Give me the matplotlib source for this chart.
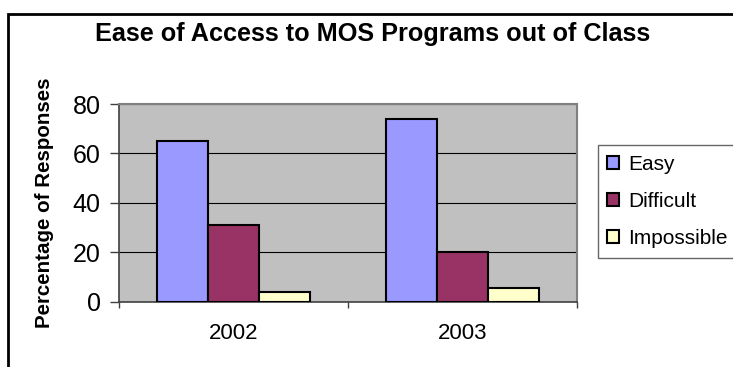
import matplotlib
matplotlib.use("Agg")
import matplotlib.pyplot as plt
from matplotlib.patches import Rectangle
import numpy as np

plt.rcParams['font.family'] = ['Liberation Sans', 'DejaVu Sans']

years = ["2002", "2003"]
series_names = ["Easy", "Difficult", "Impossible"]
easy = [65, 74]
difficult = [31, 20]
impossible = [4, 5.5]
colors = ["#9999FF", "#993366", "#FFFFCC"]

W, H = 733, 367
fig = plt.figure(figsize=(W / 100, H / 100), dpi=100)

# outer chart frame (only left/top edges fall inside the image)
fig.patches.append(Rectangle((8 / W, -0.1), 1.2, 1 - 14 / H + 0.1,
                             transform=fig.transFigure, fill=False,
                             edgecolor="black", linewidth=2))

ax = fig.add_axes([119.3 / W, 1 - 301.7 / H, 457.4 / W, 197.7 / H])
ax.set_facecolor("#C0C0C0")

x = np.arange(len(years))
width = 1 / 4.5
for i, (vals, name, c) in enumerate(zip([easy, difficult, impossible], series_names, colors)):
    ax.bar(x + (i - 1) * width, vals, width, color=c, edgecolor="black",
           linewidth=1.5, label=name, zorder=3)

ax.set_xlim(-0.5, 1.5)
ax.set_ylim(0, 80)
ax.set_yticks([0, 20, 40, 60, 80])
ax.yaxis.grid(True, color="black", linewidth=0.8, zorder=1)
ax.set_axisbelow(True)

# category ticks sit on the boundaries between groups
ax.set_xticks([-0.5, 0.5, 1.5])
ax.set_xticklabels([])
ax.set_xticks(x, minor=True)
ax.set_xticklabels(years, minor=True, fontsize=16)
ax.tick_params(axis="x", which="minor", length=0, pad=15)
ax.tick_params(axis="x", which="major", length=4, width=1, color="#404040")
ax.tick_params(axis="y", length=6.5, width=1, labelsize=18, pad=7, color="#404040")

for s in ["top", "right"]:
    ax.spines[s].set_color("#808080")
    ax.spines[s].set_linewidth(1.5)
for s in ["left", "bottom"]:
    ax.spines[s].set_color("#404040")
    ax.spines[s].set_linewidth(1.2)

ax.set_ylabel("Percentage of Responses", fontsize=14.8, fontweight="bold", labelpad=13)

fig.text(373 / W, 1 - 34 / H, "Ease of Access to MOS Programs out of Class",
         ha="center", va="center", fontsize=18.2, fontweight="bold")

leg = ax.legend(loc="center left", bbox_to_anchor=(598 / W, 1 - 201.5 / H),
                bbox_transform=fig.transFigure, fontsize=15, frameon=True,
                fancybox=False, edgecolor="#404040", handlelength=0.58,
                handleheight=0.58, handletextpad=0.43, labelspacing=0.88,
                borderpad=0.45, borderaxespad=0)
leg.get_frame().set_linewidth(1)

fig.savefig("out.png", dpi=100)
